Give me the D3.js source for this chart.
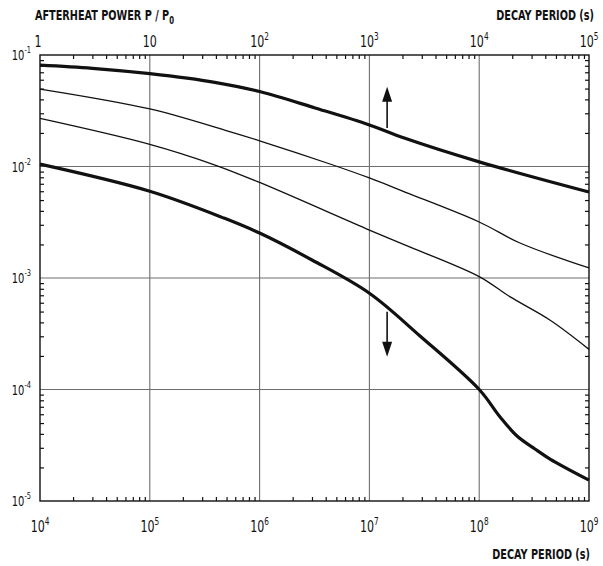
<!DOCTYPE html>
<html>
<head>
<meta charset="utf-8">
<script src="https://cdn.jsdelivr.net/npm/d3@7"></script>
<style>
  body { margin: 0; background: #fff; }
  text { font-family: "DejaVu Sans Condensed", "Liberation Sans Narrow", sans-serif; fill: #111; }
</style>
</head>
<body>
<svg id="chart" width="603" height="566"></svg>
<script>
// top axis: short decay periods (s), bottom axis: long decay periods (s)
var topTime = [1, 3, 10, 39, 100, 320, 1000, 2110, 1e4, 1e5];
var topPower = [0.081, 0.076, 0.068, 0.0569, 0.047, 0.0335, 0.0236, 0.0179, 0.011, 0.0059];

var upperThinTime = [1e4, 1e5, 4.8e5, 1e6, 4.38e6, 1e7, 2.11e7, 1e8, 2.35e8, 1e9];
var upperThinPower = [0.0495, 0.0328, 0.0212, 0.0170, 0.01053, 0.00789, 0.0059, 0.00318, 0.00206, 0.00123];

var lowerThinTime = [1e4, 1e5, 3.93e5, 1e6, 1e7, 2.1e7, 1e8, 1.9e8, 4.4e8, 1e9];
var lowerThinPower = [0.0270, 0.0158, 0.01031, 0.00719, 0.00269, 0.00198, 0.00103, 0.00068, 0.00042, 0.000229];

var bottomTime = [1e4, 1e5, 4.8e5, 1e6, 3e6, 1e7, 2.89e7, 1e8, 1.55e8, 2.21e8, 3.22e8, 4.42e8, 1e9];
var bottomPower = [0.0105, 0.0060, 0.00343, 0.00253, 0.00145, 0.00073, 0.000302, 0.0001, 0.0000567, 0.0000383, 0.0000293, 0.0000238, 0.0000154];

// arrows: [time on bottom axis, tail power, tip power]
var arrows = [[1.45e7, 0.0221, 0.052], [1.45e7, 0.000499, 0.000197]];

var topDecades = [0, 1, 2, 3, 4, 5];
var bottomDecades = [4, 5, 6, 7, 8, 9];
var powerDecades = [-1, -2, -3, -4, -5];

var margin = {top: 55, right: 14, bottom: 65, left: 40};
var width = 603 - margin.left - margin.right;
var height = 566 - margin.top - margin.bottom;

var svg = d3.select("#chart");
var g = svg.append("g").attr("transform", "translate(" + margin.left + "," + margin.top + ")");

var x = d3.scaleLog().domain([1e4, 1e9]).range([0, width]);
var xTop = d3.scaleLog().domain([1, 1e5]).range([0, width]);
var y = d3.scaleLog().domain([1e-5, 1e-1]).range([height, 0]);

// minor ticks 2..9 in every decade
function minor(lo, hi) {
  var t = [];
  for (var e = lo; e < hi; e++) {
    for (var m = 2; m <= 9; m++) t.push(m * Math.pow(10, e));
  }
  return t;
}

//grid
g.append("g").selectAll("line").data(bottomDecades.slice(1, -1)).enter().append("line")
  .attr("x1", function(d) { return x(Math.pow(10, d)); })
  .attr("x2", function(d) { return x(Math.pow(10, d)); })
  .attr("y1", 0).attr("y2", height)
  .attr("stroke", "#6e6e6e").attr("stroke-width", 1.1);
g.append("g").selectAll("line").data(powerDecades.slice(1, -1)).enter().append("line")
  .attr("y1", function(d) { return y(Math.pow(10, d)); })
  .attr("y2", function(d) { return y(Math.pow(10, d)); })
  .attr("x1", 0).attr("x2", width)
  .attr("stroke", "#6e6e6e").attr("stroke-width", 1.1);

// axes with inward minor ticks
function styleAxis(sel) {
  sel.selectAll(".domain").remove();
  sel.selectAll("line").attr("stroke", "#111").attr("stroke-width", 1.2);
}
g.append("g").attr("transform", "translate(0," + height + ")")
  .call(d3.axisBottom(x).tickValues(minor(4, 9)).tickSizeInner(-4).tickSizeOuter(0).tickFormat(""))
  .call(styleAxis);
g.append("g")
  .call(d3.axisTop(xTop).tickValues(minor(0, 5)).tickSizeInner(-4).tickSizeOuter(0).tickFormat(""))
  .call(styleAxis);
g.append("g")
  .call(d3.axisLeft(y).tickValues(minor(-5, -1)).tickSizeInner(-4).tickSizeOuter(0).tickFormat(""))
  .call(styleAxis);
g.append("g").attr("transform", "translate(" + width + ",0)")
  .call(d3.axisRight(y).tickValues(minor(-5, -1)).tickSizeInner(-4).tickSizeOuter(0).tickFormat(""))
  .call(styleAxis);

g.append("rect").attr("width", width).attr("height", height)
  .attr("fill", "none").attr("stroke", "#111").attr("stroke-width", 1.4);

// curves
var line = d3.line()
  .x(function(d) { return d[0]; })
  .y(function(d) { return d[1]; })
  .curve(d3.curveCatmullRom.alpha(0.5));

function pts(times, powers, sx) {
  return times.map(function(t, i) { return [sx(t), y(powers[i])]; });
}

var curves = [
  {p: pts(topTime, topPower, xTop), w: 3.2},
  {p: pts(upperThinTime, upperThinPower, x), w: 1.3},
  {p: pts(lowerThinTime, lowerThinPower, x), w: 1.3},
  {p: pts(bottomTime, bottomPower, x), w: 3.2}
];
g.selectAll(".curve").data(curves).enter().append("path")
  .attr("class", "curve")
  .attr("d", function(d) { return line(d.p); })
  .attr("fill", "none").attr("stroke", "#111")
  .attr("stroke-width", function(d) { return d.w; })
  .attr("stroke-linejoin", "round");

// arrows
arrows.forEach(function(a) {
  var ax = x(a[0]), y0 = y(a[1]), y1 = y(a[2]);
  var dir = y1 < y0 ? 1 : -1;
  g.append("line").attr("x1", ax).attr("x2", ax).attr("y1", y0).attr("y2", y1 + dir * 10)
    .attr("stroke", "#111").attr("stroke-width", 1.6);
  g.append("path")
    .attr("d", "M" + ax + "," + y1 + "L" + (ax - 5) + "," + (y1 + dir * 15) + "L" + (ax + 5) + "," + (y1 + dir * 15) + "Z")
    .attr("fill", "#111");
});

// tick labels, squeezed horizontally like the condensed lettering
function powLabel(px, py, e, size, anchor) {
  var lab = g.append("g").attr("transform", "translate(" + px + "," + py + ") scale(0.82,1)")
    .append("text").attr("text-anchor", anchor).attr("font-size", size + "px");
  if (e === 0) { lab.text("1"); return; }
  if (e === 1) { lab.text("10"); return; }
  lab.append("tspan").text("10");
  lab.append("tspan").attr("font-size", Math.round(size * 0.65) + "px").attr("dy", -7).text(e);
}

bottomDecades.forEach(function(e) {
  powLabel(x(Math.pow(10, e)), height + 31, e, 15, "middle");
});
topDecades.forEach(function(e) {
  powLabel(xTop(Math.pow(10, e)) + (e === 0 ? -2 : 0), -8, e, 15, "middle");
});
powerDecades.forEach(function(e) {
  powLabel(-9, y(Math.pow(10, e)) + 5, e, 13.5, "end");
});

// titles
function title(px, py, anchor) {
  return svg.append("g").attr("transform", "translate(" + px + "," + py + ") scale(0.77,1)")
    .append("text").attr("text-anchor", anchor)
    .attr("font-size", "14px").attr("font-weight", "bold");
}
var t1 = title(35, 20, "start");
t1.append("tspan").text("AFTERHEAT POWER P / P");
t1.append("tspan").attr("font-size", "10px").attr("dy", 4).text("0");

title(594, 20, "end").text("DECAY PERIOD (s)");
title(590, 559, "end").text("DECAY PERIOD (s)");
</script>
</body>
</html>
